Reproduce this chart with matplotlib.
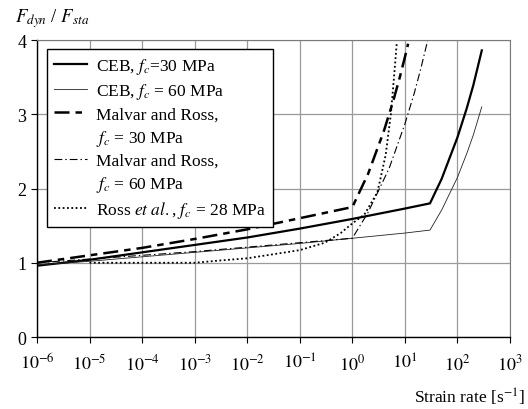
import matplotlib
matplotlib.use("Agg")
import matplotlib.pyplot as plt
from matplotlib.lines import Line2D
from matplotlib.ticker import FixedLocator, NullLocator

plt.rcParams["font.family"] = ["Liberation Serif", "DejaVu Serif"]
plt.rcParams["mathtext.fontset"] = "stix"

# values (strain rate in 1/s, F_dyn/F_sta)
ceb30_rate = [1e-6, 1e-5, 1e-4, 1e-3, 1e-2, 1e-1, 1, 10, 30, 50, 100, 150, 200, 290]
ceb30_ratio = [0.96, 1.04, 1.14, 1.24, 1.34, 1.46, 1.59, 1.73, 1.80, 2.13, 2.69, 3.08, 3.39, 3.86]

ceb60_rate = [1e-6, 1e-5, 1e-4, 1e-3, 1e-2, 1e-1, 1, 10, 30, 50, 100, 150, 200, 290]
ceb60_ratio = [0.97, 1.02, 1.08, 1.14, 1.20, 1.26, 1.33, 1.40, 1.44, 1.71, 2.15, 2.47, 2.72, 3.10]

malvar30_rate = [1e-6, 1e-5, 1e-4, 1e-3, 1e-2, 1e-1, 1, 2, 4, 6, 8, 10, 11.5]
malvar30_ratio = [1.00, 1.10, 1.20, 1.32, 1.45, 1.60, 1.75, 2.20, 2.78, 3.18, 3.50, 3.77, 3.95]

malvar60_rate = [1e-6, 1e-5, 1e-4, 1e-3, 1e-2, 1e-1, 1, 2, 5, 10, 15, 20, 27]
malvar60_ratio = [1.00, 1.05, 1.10, 1.15, 1.21, 1.27, 1.33, 1.68, 2.27, 2.87, 3.28, 3.61, 3.99]

ross_rate = [1e-5, 1e-4, 1e-3, 3e-3, 1e-2, 1e-1, 0.3, 0.6, 1, 1.7, 3, 4.3, 5.4, 6.2, 7.0]
ross_ratio = [1.00, 1.00, 1.00, 1.03, 1.06, 1.17, 1.27, 1.40, 1.53, 1.65, 1.95, 2.45, 3.00, 3.50, 3.96]

x_ticks = [1e-6, 1e-5, 1e-4, 1e-3, 1e-2, 1e-1, 1, 1e1, 1e2, 1e3]
x_ticklabels = ["$10^{-6}$", "$10^{-5}$", "$10^{-4}$", "$10^{-3}$", "$10^{-2}$",
                "$10^{-1}$", "$10^{0}$", "$10^{1}$", "$10^{2}$", "$10^{3}$"]
y_ticks = [0, 1, 2, 3, 4]

fig = plt.figure(figsize=(5.28, 4.1), dpi=100)
ax = fig.add_axes([0.070, 0.1756, 0.896, 0.7244])

l1, = ax.plot(ceb30_rate, ceb30_ratio, color="black", lw=1.6)
l2, = ax.plot(ceb60_rate, ceb60_ratio, color="#222222", lw=0.6)
l3, = ax.plot(malvar30_rate, malvar30_ratio, color="black", lw=1.8, dashes=(6, 2.4, 2.6, 2.4))
l4, = ax.plot(malvar60_rate, malvar60_ratio, color="black", lw=0.8, dashes=(7, 2.7, 1.3, 2.7))
l5, = ax.plot(ross_rate, ross_ratio, color="black", lw=1.3, dashes=(1, 1.4))

ax.set_xscale("log")
ax.set_xlim(1e-6, 1e3)
ax.set_ylim(0, 4)
ax.xaxis.set_major_locator(FixedLocator(x_ticks))
ax.xaxis.set_minor_locator(NullLocator())
ax.set_xticklabels(x_ticklabels)
ax.set_yticks(y_ticks)
ax.tick_params(direction="out", length=4.5, width=0.8, labelsize=13, pad=3)
ax.tick_params(axis="x", pad=7)

ax.grid(True, color="#9a9a9a", lw=0.9)
ax.set_axisbelow(True)
for s in ["top", "right"]:
    ax.spines[s].set_color("#7a7a7a")
for s in ["left", "bottom"]:
    ax.spines[s].set_color("black")
    ax.spines[s].set_linewidth(1.0)

blank = Line2D([], [], linestyle="none")
handles = [l1, l2, l3, blank, l4, blank, l5]
labels = ["CEB, $f_c$=30 MPa", "CEB, $f_c$ = 60 MPa", "Malvar and Ross,", "$f_c$ = 30 MPa",
          "Malvar and Ross,", "$f_c$ = 60 MPa", "Ross $\\mathit{et\\ al.}$, $f_c$ = 28 MPa"]
leg = ax.legend(handles, labels, loc="upper left", bbox_to_anchor=(0.021, 0.97),
                borderaxespad=0, fontsize=12.5, handlelength=1.9, handletextpad=0.55,
                labelspacing=0.3, fancybox=False, framealpha=1, edgecolor="black",
                borderpad=0.4)
leg.get_frame().set_linewidth(1.0)

fig.text(0.028, 0.955, "$F_{dyn}$ / $F_{sta}$", fontsize=13.5, ha="left", va="center")
fig.text(0.993, 0.03, "Strain rate [s$^{-1}$]", fontsize=12.5, ha="right", va="center")

fig.savefig("out.png", dpi=100)
